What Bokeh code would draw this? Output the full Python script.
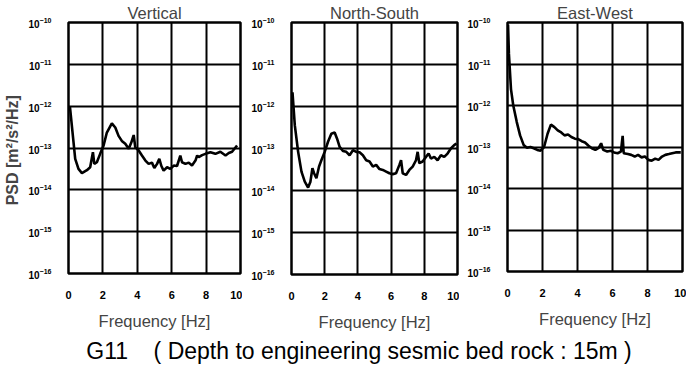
from bokeh.plotting import figure
from bokeh.layouts import row, column
from bokeh.models import FixedTicker, Div, ColumnDataSource
from bokeh.embed import file_html
from bokeh.resources import INLINE

# ---- data (frequency in Hz, PSD as log10 exponent) ----
v_freq = [0.08, 0.39, 0.58, 0.78, 1.07, 1.26, 1.42, 1.5, 1.65, 1.84, 2.04, 2.23, 2.52, 2.72, 2.91, 3.1, 3.3, 3.5,
          3.65, 3.79, 3.88, 4.08, 4.27, 4.47, 4.66, 4.85, 4.99, 5.15, 5.28, 5.4, 5.53, 5.73, 5.92, 6.12, 6.31,
          6.5, 6.6, 6.8, 6.99, 7.18, 7.38, 7.48, 7.57, 7.77, 7.96, 8.25, 8.54, 8.83, 9.13, 9.32, 9.51, 9.8]
v_psd = [-12.0, -13.26, -13.5, -13.6, -13.53, -13.46, -13.1, -13.38, -13.34, -13.14, -12.94, -12.63, -12.41,
         -12.51, -12.71, -12.83, -12.9, -13.02, -12.87, -12.69, -12.98, -13.06, -13.18, -13.3, -13.38, -13.35,
         -13.48, -13.38, -13.26, -13.43, -13.54, -13.46, -13.5, -13.42, -13.43, -13.18, -13.34, -13.38, -13.35,
         -13.42, -13.3, -13.18, -13.22, -13.17, -13.14, -13.1, -13.14, -13.09, -13.18, -13.12, -13.09, -12.94]

ns_freq = [0.06, 0.2, 0.4, 0.6, 0.8, 1.0, 1.14, 1.26, 1.36, 1.5, 1.66, 1.8, 2.0, 2.2, 2.4, 2.6, 2.74, 2.9, 3.1,
           3.3, 3.5, 3.7, 3.9, 4.1, 4.3, 4.5, 4.7, 4.9, 5.1, 5.3, 5.5, 5.7, 5.9, 6.1, 6.3, 6.5, 6.6, 6.7, 6.9,
           7.1, 7.3, 7.5, 7.6, 7.7, 7.9, 8.1, 8.26, 8.4, 8.6, 8.8, 9.0, 9.2, 9.4, 9.6, 9.8, 9.94]
ns_psd = [-11.66, -12.45, -13.08, -13.55, -13.79, -13.93, -13.79, -13.47, -13.59, -13.71, -13.43, -13.28, -13.08,
          -12.84, -12.65, -12.62, -12.76, -12.96, -13.06, -13.08, -13.16, -13.04, -13.08, -13.09, -13.16, -13.28,
          -13.31, -13.43, -13.39, -13.49, -13.51, -13.55, -13.59, -13.61, -13.59, -13.39, -13.28, -13.59, -13.63,
          -13.51, -13.43, -13.28, -13.08, -13.35, -13.31, -13.2, -13.12, -13.24, -13.2, -13.28, -13.16, -13.2,
          -13.12, -13.0, -12.92, -12.88]

ew_freq = [0.03, 0.08, 0.2, 0.33, 0.53, 0.72, 0.92, 1.11, 1.31, 1.5, 1.7, 1.89, 2.09, 2.29, 2.48, 2.68, 2.87,
           3.07, 3.26, 3.46, 3.65, 3.85, 4.04, 4.24, 4.43, 4.63, 4.82, 5.02, 5.21, 5.35, 5.47, 5.7, 5.9, 6.09,
           6.29, 6.48, 6.58, 6.64, 6.88, 7.07, 7.27, 7.46, 7.66, 7.85, 8.05, 8.24, 8.44, 8.63, 8.83, 9.02, 9.22,
           9.41, 9.61, 9.9]
ew_psd = [-10.05, -10.75, -11.61, -12.0, -12.4, -12.72, -12.95, -13.02, -13.0, -13.03, -13.07, -13.09, -13.0,
          -12.68, -12.46, -12.52, -12.6, -12.65, -12.72, -12.7, -12.76, -12.8, -12.81, -12.86, -12.89, -12.97,
          -13.03, -13.07, -13.02, -12.91, -13.07, -13.11, -13.09, -13.13, -13.15, -13.11, -12.73, -13.15, -13.17,
          -13.19, -13.23, -13.19, -13.25, -13.23, -13.31, -13.33, -13.28, -13.31, -13.23, -13.19, -13.17, -13.15,
          -13.13, -13.13]

titles = ["Vertical", "North-South", "East-West"]
x_ticks = [0, 2, 4, 6, 8, 10]
y_ticks = [1e-16, 1e-15, 1e-14, 1e-13, 1e-12, 1e-11, 1e-10]

FONT = "Liberation Sans"


def panel(title, freq, psd, frame_w, left, right, frame_h, ylabel=None):
    p = figure(frame_width=frame_w, frame_height=frame_h, x_range=(0, 10), y_range=(1e-16, 1e-10),
               y_axis_type="log", output_backend="svg", toolbar_location=None,
               min_border_left=left, min_border_right=right, min_border_top=21,
               min_border_bottom=58, title=title)
    p.title.align = "center"
    p.title.text_font = FONT
    p.title.text_font_size = "16.5px"
    p.title.text_font_style = "normal"
    p.title.standoff = 2
    p.outline_line_color = "black"
    p.outline_line_width = 2.5
    p.background_fill_color = "white"
    p.border_fill_color = "white"

    p.xaxis.ticker = FixedTicker(ticks=x_ticks)
    p.yaxis.ticker = FixedTicker(ticks=y_ticks)
    p.xgrid.ticker = FixedTicker(ticks=x_ticks)
    p.ygrid.ticker = FixedTicker(ticks=y_ticks)
    for g in (p.xgrid, p.ygrid):
        g.grid_line_color = "black"
        g.grid_line_width = 2
        g.grid_line_alpha = 1.0
    for ax in (p.xaxis, p.yaxis):
        ax.axis_line_color = None
        ax.major_tick_line_color = None
        ax.minor_tick_line_color = None
        ax.major_label_text_font = FONT
        ax.major_label_text_font_style = "bold"
        ax.major_label_text_color = "black"
    p.xaxis.major_label_text_font_size = "11px"
    p.xaxis.major_label_standoff = 11
    p.yaxis.major_label_text_font_size = "10px"
    p.yaxis.major_label_standoff = 11
    p.xaxis.axis_label = "Frequency [Hz]"
    p.xaxis.axis_label_text_font = FONT
    p.xaxis.axis_label_text_font_size = "16.5px"
    p.xaxis.axis_label_text_font_style = "normal"
    p.xaxis.axis_label_standoff = 10
    if ylabel:
        p.yaxis.axis_label = ylabel
        p.yaxis.axis_label_text_font = FONT
        p.yaxis.axis_label_text_font_size = "16px"
        p.yaxis.axis_label_text_font_style = "bold"
        p.yaxis.axis_label_standoff = 5

    src = ColumnDataSource(dict(f=freq, y=[10 ** v for v in psd]))
    p.line("f", "y", source=src, line_color="black", line_width=2.6)
    return p


p1 = panel(titles[0], v_freq, v_psd, 172, 66, 2, 251, ylabel="PSD  [m\u00b2/s\u00b2/Hz]")
p2 = panel(titles[1], ns_freq, ns_psd, 166, 49, 2, 252)
p3 = panel(titles[2], ew_freq, ew_psd, 175, 48, 4, 249)

caption = Div(text=("<span style='position:relative;left:12px;white-space:nowrap;'>"
                    "G11&nbsp;&nbsp;&nbsp;&nbsp;( Depth to engineering sesmic bed rock : 15m )</span>"),
              width=684, height=27,
              styles={"font-family": "Liberation Sans", "font-size": "23px", "line-height": "26px",
                      "text-align": "center", "color": "black", "overflow": "hidden"})

layout = column(row(p1, p2, p3), caption)
open("out.html", "w").write(file_html(layout, INLINE))
